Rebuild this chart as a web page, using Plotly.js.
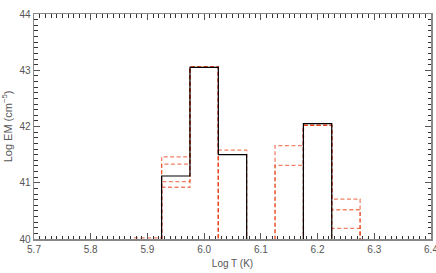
<!DOCTYPE html>
<html>
<head>
<meta charset="utf-8">
<script src="https://cdn.plot.ly/plotly-3.0.1.min.js"></script>
<style>html,body{margin:0;padding:0;background:#fff;}#chart{width:436px;height:273px;}</style>
</head>
<body>
<div id="chart"></div>
<script>
// Bin edges of log T histogram (bin width 0.05)
var binEdges = [5.825, 5.875, 5.925, 5.975, 6.025, 6.075, 6.125, 6.175, 6.225, 6.275, 6.325];
// Values per bin (log EM); 39.5 = below plotted range
var emBest = [39.5, 39.5, 41.12, 43.05, 41.50, 39.5, 39.5, 42.05, 39.5, 39.5];
var emRunA = [39.5, 40.02, 41.46, 43.06, 41.58, 39.5, 41.66, 42.02, 40.71, 39.5];
var emRunB = [39.5, 39.5, 41.33, 43.06, 39.5, 39.5, 41.31, 42.02, 40.52, 39.5];
var emRunC = [39.5, 39.5, 41.02, 43.06, 39.5, 39.5, 39.5, 42.02, 40.19, 39.5];
var emRunD = [39.5, 39.5, 40.92, 43.06, 39.5, 39.5, 39.5, 42.02, 39.5, 39.5];
var xTicks = [5.7, 5.8, 5.9, 6.0, 6.1, 6.2, 6.3, 6.4];
var yTicks = [40, 41, 42, 43, 44];

function stepY(vals) { return vals.concat([vals[vals.length - 1]]); }

var xRange = [xTicks[0], xTicks[xTicks.length - 1]];
var yRange = [yTicks[0], yTicks[yTicks.length - 1]];

var traces = [];
[emRunA, emRunB, emRunC, emRunD].forEach(function (v) {
  traces.push({
    x: binEdges, y: stepY(v), type: 'scatter', mode: 'lines',
    line: {shape: 'hv', color: 'rgb(232,62,20)', width: 1.3, dash: '4px,2.5px'},
    opacity: 0.65, hoverinfo: 'skip', showlegend: false
  });
});
traces.push({
  x: binEdges, y: stepY(emBest), type: 'scatter', mode: 'lines',
  line: {shape: 'hv', color: '#000000', width: 1.2},
  hoverinfo: 'skip', showlegend: false
});
// invisible helper so the top/right tick axes are drawn
traces.push({
  x: xRange, y: yRange, xaxis: 'x2', yaxis: 'y2', type: 'scatter', mode: 'lines',
  line: {width: 0, color: 'rgba(0,0,0,0)'}, opacity: 0, hoverinfo: 'skip', showlegend: false
});

var fontSpec = {family: 'Liberation Sans, Arial, sans-serif', size: 10, color: '#555555'};
var axisCommon = {
  showgrid: false, zeroline: false, showline: true, linecolor: '#888888', linewidth: 1.5,
  ticks: 'inside', ticklen: 6, tickwidth: 1.2, tickcolor: '#555555',
  tickfont: fontSpec, automargin: false, ticklabeloverflow: 'allow'
};
var xMinor = {tickmode: 'linear', tick0: xTicks[0], dtick: 0.01, ticks: 'inside', ticklen: 3.5, tickwidth: 1, tickcolor: '#333333'};
var yMinor = {tickmode: 'linear', tick0: yTicks[0], dtick: 0.1, ticks: 'inside', ticklen: 3.5, tickwidth: 1, tickcolor: '#333333'};

var layout = {
  width: 436, height: 273,
  margin: {l: 34, r: 5, t: 14, b: 34},
  paper_bgcolor: '#ffffff', plot_bgcolor: '#ffffff',
  showlegend: false,
  xaxis: Object.assign({}, axisCommon, {
    range: xRange, tickmode: 'linear', tick0: xTicks[0], dtick: 0.1, tickformat: '.1f',
    minor: xMinor,
    title: {text: 'Log T (K)', standoff: 6, font: fontSpec}
  }),
  xaxis2: Object.assign({}, axisCommon, {
    range: xRange, overlaying: 'x', side: 'top', anchor: 'y2',
    tickmode: 'linear', tick0: xTicks[0], dtick: 0.1, showticklabels: false,
    minor: xMinor
  }),
  yaxis: Object.assign({}, axisCommon, {
    range: yRange, tickmode: 'linear', tick0: yTicks[0], dtick: 1,
    minor: yMinor,
    title: {text: 'Log EM (cm<sup>−5</sup>)', standoff: 8, font: {family: fontSpec.family, size: 11, color: '#555555'}}
  }),
  yaxis2: Object.assign({}, axisCommon, {
    range: yRange, overlaying: 'y', side: 'right', anchor: 'x2',
    tickmode: 'linear', tick0: yTicks[0], dtick: 1, showticklabels: false,
    minor: yMinor
  })
};

Plotly.newPlot('chart', traces, layout, {staticPlot: true, displayModeBar: false});
</script>
</body>
</html>
